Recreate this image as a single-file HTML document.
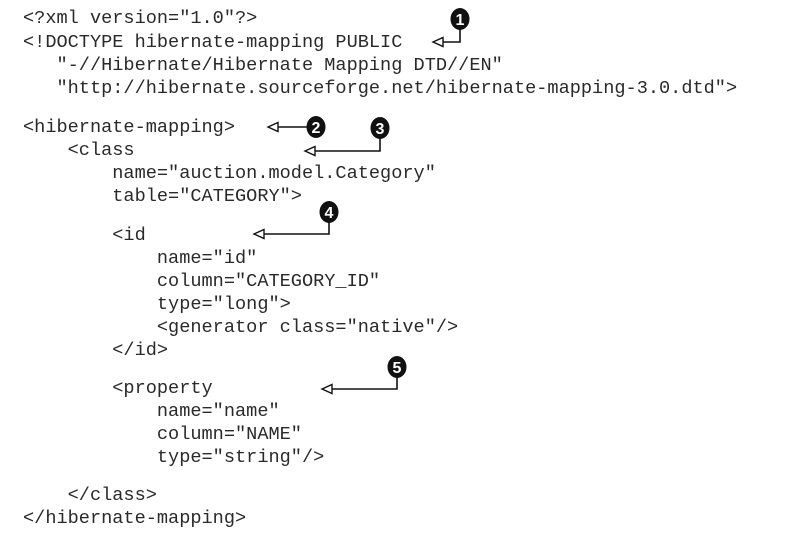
<!DOCTYPE html>
<html><head><style>
body{margin:0;background:#fff;width:800px;height:538px;overflow:hidden;position:relative;}
.l{position:absolute;left:23px;font-family:"Liberation Mono",monospace;font-size:18.6px;line-height:20px;color:#2a2a2a;white-space:pre;}
svg{position:absolute;left:0;top:0;}
</style></head><body>
<div class="l" style="top:9px">&lt;?xml version="1.0"?&gt;</div>
<div class="l" style="top:33px">&lt;!DOCTYPE hibernate-mapping PUBLIC</div>
<div class="l" style="top:56px">   "-//Hibernate/Hibernate Mapping DTD//EN"</div>
<div class="l" style="top:79px">   "http://hibernate.sourceforge.net/hibernate-mapping-3.0.dtd"&gt;</div>
<div class="l" style="top:118px">&lt;hibernate-mapping&gt;</div>
<div class="l" style="top:141px">    &lt;class</div>
<div class="l" style="top:164px">        name="auction.model.Category"</div>
<div class="l" style="top:187px">        table="CATEGORY"&gt;</div>
<div class="l" style="top:226px">        &lt;id</div>
<div class="l" style="top:249px">            name="id"</div>
<div class="l" style="top:272px">            column="CATEGORY_ID"</div>
<div class="l" style="top:295px">            type="long"&gt;</div>
<div class="l" style="top:318px">            &lt;generator class="native"/&gt;</div>
<div class="l" style="top:341px">        &lt;/id&gt;</div>
<div class="l" style="top:379px">        &lt;property</div>
<div class="l" style="top:402px">            name="name"</div>
<div class="l" style="top:425px">            column="NAME"</div>
<div class="l" style="top:448px">            type="string"/&gt;</div>
<div class="l" style="top:486px">    &lt;/class&gt;</div>
<div class="l" style="top:509px">&lt;/hibernate-mapping&gt;</div>
<svg width="800" height="538" font-family="Liberation Sans,sans-serif" font-weight="bold" font-size="16">
<g stroke="#111" stroke-width="1.6" fill="none">
<polyline points="460,20 460,42 441,42"/>
<polyline points="316,127 276,127"/>
<polyline points="380,128 380,151 313,151"/>
<polyline points="329,212 329,234 262,234"/>
<polyline points="397,367 397,389 330,389"/>
</g>
<g stroke="#111" stroke-width="1.4" fill="#fff">
<polygon points="433,42 443,37.5 443,46.5"/>
<polygon points="268,127 278,122.5 278,131.5"/>
<polygon points="305,151 315,146.5 315,155.5"/>
<polygon points="254,234 264,229.5 264,238.5"/>
<polygon points="322,389 332,384.5 332,393.5"/>
</g>
<g fill="#111">
<ellipse cx="460" cy="19" rx="9.5" ry="11"/>
<ellipse cx="316" cy="127" rx="9.5" ry="11"/>
<ellipse cx="380" cy="128" rx="9.5" ry="11"/>
<ellipse cx="329" cy="212" rx="9.5" ry="11"/>
<ellipse cx="397" cy="367" rx="9.5" ry="11"/>
</g>
<g fill="#fff" text-anchor="middle">
<text x="460" y="25">1</text>
<text x="316" y="133">2</text>
<text x="380" y="134">3</text>
<text x="329" y="218">4</text>
<text x="397" y="373">5</text>
</g>
</svg>
</body></html>
